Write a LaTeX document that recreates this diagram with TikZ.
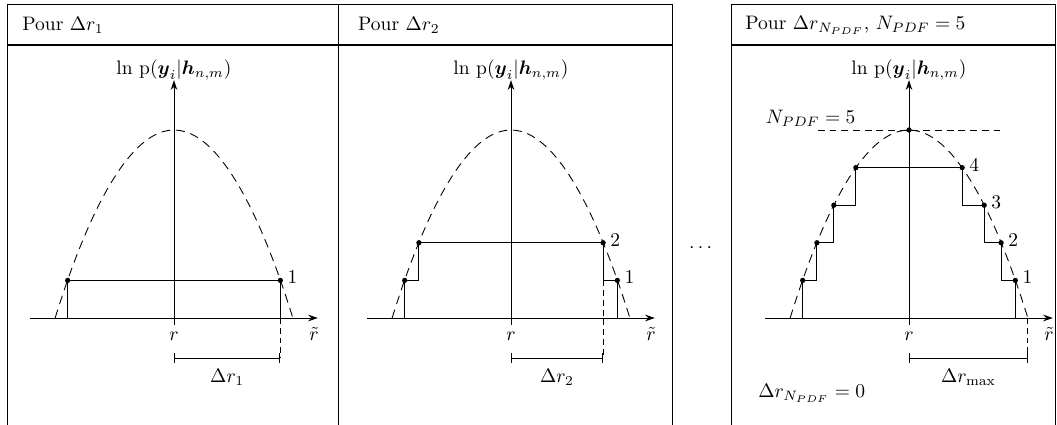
\documentclass[tikz,border=0pt]{standalone}
\usepackage{amsmath}
\usepackage{amssymb}
\usepackage{tikz}
\usetikzlibrary{arrows.meta,positioning,calc}

\begin{document}
\begin{tikzpicture}[
    >={Stealth[length=5pt,width=3.4pt]},
    cadre/.style={
        line width=0.5pt
    },
    entete/.style={
        line width=1.1pt
    },
    axe/.style={
        ->,
        line width=0.5pt
    },
    courbe/.style={
        line width=0.45pt,
        dash pattern=on 4.5pt off 3pt
    },
    escalier/.style={
        line width=0.5pt
    },
    rappel/.style={
        line width=0.45pt,
        dash pattern=on 3pt off 2pt
    },
    cote/.style={
        {Bar[width=5pt]}-{Bar[width=5pt]},
        line width=0.5pt
    },
    titre/.style={
        anchor=west,
        inner sep=0pt
    },
    numero/.style={
        right,
        yshift=1.5pt,
        inner sep=3.5pt
    }
]

\useasboundingbox (0,-1.926) rectangle (19.026,5.724);

% Frames
\draw[cadre] (0.126,-1.926) |- (6.084,5.652) -- (6.084,-1.926);
\draw[cadre] (6.084,5.652) -| (12.096,-1.926);
\draw[cadre] (13.158,-1.926) |- (18.99,5.652) -- (18.99,-1.926);
\draw[entete] (0.126,4.914) -- (12.096,4.914);
\draw[entete] (13.158,4.914) -- (18.99,4.914);

% Titles
\node[titre] (tA) at (0.396,5.27) {Pour $\Delta r_1$};
\node[titre] (tB) at (6.44,5.27) {Pour $\Delta r_2$};
\node[titre] (tC) at (13.41,5.27) {Pour $\Delta r_{N_{PDF}}$, $N_{PDF}=5$};

% Origins
\coordinate (o1) at (3.132,0);
\coordinate (o2) at (9.198,0);
\coordinate (o3) at (16.362,0);

% Axes
\coordinate (Axg) at ($(o1)+(-2.59,0)$);
\coordinate (Axd) at ($(o1)+(2.59,0)$);
\coordinate (Ayb) at ($(o1)+(0,-0.13)$);
\coordinate (Ayh) at ($(o1)+(0,4.28)$);
\coordinate (Bxg) at ($(o2)+(-2.59,0)$);
\coordinate (Bxd) at ($(o2)+(2.59,0)$);
\coordinate (Byb) at ($(o2)+(0,-0.13)$);
\coordinate (Byh) at ($(o2)+(0,4.28)$);
\coordinate (Cxg) at ($(o3)+(-2.59,0)$);
\coordinate (Cxd) at ($(o3)+(2.59,0)$);
\coordinate (Cyb) at ($(o3)+(0,-0.13)$);
\coordinate (Cyh) at ($(o3)+(0,4.28)$);

\draw[axe] (Axg) -- (Axd);
\draw[axe] (Ayb) -- (Ayh);
\draw[axe] (Bxg) -- (Bxd);
\draw[axe] (Byb) -- (Byh);
\draw[axe] (Cxg) -- (Cxd);
\draw[axe] (Cyb) -- (Cyh);

\node[above=0pt of Ayh, inner sep=0pt] (lnA) {$\ln\,\mathrm{p}(\boldsymbol{y}_i|\boldsymbol{h}_{n,m})$};
\node[above=0pt of Byh, inner sep=0pt] (lnB) {$\ln\,\mathrm{p}(\boldsymbol{y}_i|\boldsymbol{h}_{n,m})$};
\node[above=0pt of Cyh, inner sep=0pt] (lnC) {$\ln\,\mathrm{p}(\boldsymbol{y}_i|\boldsymbol{h}_{n,m})$};

\node[anchor=base] (rA) at ($(o1)+(0,-0.41)$) {$r$};
\node[anchor=base] (rtA) at ($(o1)+(2.52,-0.41)$) {$\tilde{r}$};
\node[anchor=base] (rB) at ($(o2)+(0,-0.41)$) {$r$};
\node[anchor=base] (rtB) at ($(o2)+(2.52,-0.41)$) {$\tilde{r}$};
\node[anchor=base] (rC) at ($(o3)+(0,-0.41)$) {$r$};
\node[anchor=base] (rtC) at ($(o3)+(2.52,-0.41)$) {$\tilde{r}$};

% Parabolas
\draw[courbe] ($(o1)+(-2.14,0)$) parabola bend ($(o1)+(0,3.384)$) ($(o1)+(2.14,0)$);
\draw[courbe] ($(o2)+(-2.14,0)$) parabola bend ($(o2)+(0,3.384)$) ($(o2)+(2.14,0)$);
\draw[courbe] ($(o3)+(-2.14,0)$) parabola bend ($(o3)+(0,3.384)$) ($(o3)+(2.14,0)$);

% Panel 1 : one level
\coordinate (A1g) at ($(o1)+(-1.914,0.677)$);
\coordinate (A1d) at ($(o1)+(1.914,0.677)$);
\draw[escalier] (A1g |- o1) -- (A1g) -- (A1d) -- (A1d |- o1);
\fill (A1g) circle[radius=1.35pt] (A1d) circle[radius=1.35pt];
\node[numero] (nA1) at (A1d) {1};

\coordinate (Ac0) at ($(o1)+(0,-0.72)$);
\coordinate (Ac1) at ($(o1)+(1.914,-0.72)$);
\draw[rappel] (A1d |- o1) -- (Ac1);
\draw[cote] (Ac0) -- node[below=2pt] (dA) {$\Delta r_1$} (Ac1);

% Panel 2 : two levels
\coordinate (B1g) at ($(o2)+(-1.914,0.677)$);
\coordinate (B1d) at ($(o2)+(1.914,0.677)$);
\coordinate (B2g) at ($(o2)+(-1.658,1.354)$);
\coordinate (B2d) at ($(o2)+(1.658,1.354)$);
\draw[escalier] (B1g |- o2) -- (B1g) -| (B2g) -- (B2d) |- (B1d) -- (B1d |- o2);
\fill (B1g) circle[radius=1.35pt] (B1d) circle[radius=1.35pt]
      (B2g) circle[radius=1.35pt] (B2d) circle[radius=1.35pt];
\node[numero] (nB1) at (B1d) {1};
\node[numero] (nB2) at (B2d) {2};

\coordinate (Bc0) at ($(o2)+(0,-0.72)$);
\coordinate (Bc1) at ($(o2)+(1.658,-0.72)$);
\draw[rappel] (B2d |- B1d) -- (Bc1);
\draw[cote] (Bc0) -- node[below=2pt] (dB) {$\Delta r_2$} (Bc1);

% Dots between panels
\node (suite) at (12.64,1.26) {$\cdots$};

% Panel 3 : N_PDF levels
\coordinate (C1g) at ($(o3)+(-1.914,0.677)$);
\coordinate (C1d) at ($(o3)+(1.914,0.677)$);
\coordinate (C2g) at ($(o3)+(-1.658,1.354)$);
\coordinate (C2d) at ($(o3)+(1.658,1.354)$);
\coordinate (C3g) at ($(o3)+(-1.353,2.03)$);
\coordinate (C3d) at ($(o3)+(1.353,2.03)$);
\coordinate (C4g) at ($(o3)+(-0.957,2.707)$);
\coordinate (C4d) at ($(o3)+(0.957,2.707)$);
\coordinate (C5) at ($(o3)+(0,3.384)$);
\coordinate (Chg) at ($(o3)+(-1.64,3.384)$);
\coordinate (Chd) at ($(o3)+(1.69,3.384)$);

\draw[rappel, dash pattern=on 3.5pt off 2.5pt] (Chg) -- (Chd);
\draw[escalier] (C1g |- o3) -- (C1g) -| (C2g) -| (C3g) -| (C4g) -- (C4d)
    |- (C3d) |- (C2d) |- (C1d) -- (C1d |- o3);
\fill (C1g) circle[radius=1.35pt] (C1d) circle[radius=1.35pt]
      (C2g) circle[radius=1.35pt] (C2d) circle[radius=1.35pt]
      (C3g) circle[radius=1.35pt] (C3d) circle[radius=1.35pt]
      (C4g) circle[radius=1.35pt] (C4d) circle[radius=1.35pt]
      (C5) circle[radius=1.35pt];
\node[numero] (nC1) at (C1d) {1};
\node[numero] (nC2) at (C2d) {2};
\node[numero] (nC3) at (C3d) {3};
\node[numero] (nC4) at (C4d) {4};
\node (nC5) at ($(o3)+(-1.77,3.6)$) {$N_{PDF}=5$};

\coordinate (Cc0) at ($(o3)+(0,-0.72)$);
\coordinate (Cc1) at ($(o3)+(2.14,-0.72)$);
\draw[rappel] ($(o3)+(2.14,0)$) -- (Cc1);
\draw[cote] (Cc0) -- node[below=2pt] (dC) {$\Delta r_{\max}$} (Cc1);

\node (zero) at ($(o3)+(-1.75,-1.35)$) {$\Delta r_{N_{PDF}}=0$};

\end{tikzpicture}
\end{document}
